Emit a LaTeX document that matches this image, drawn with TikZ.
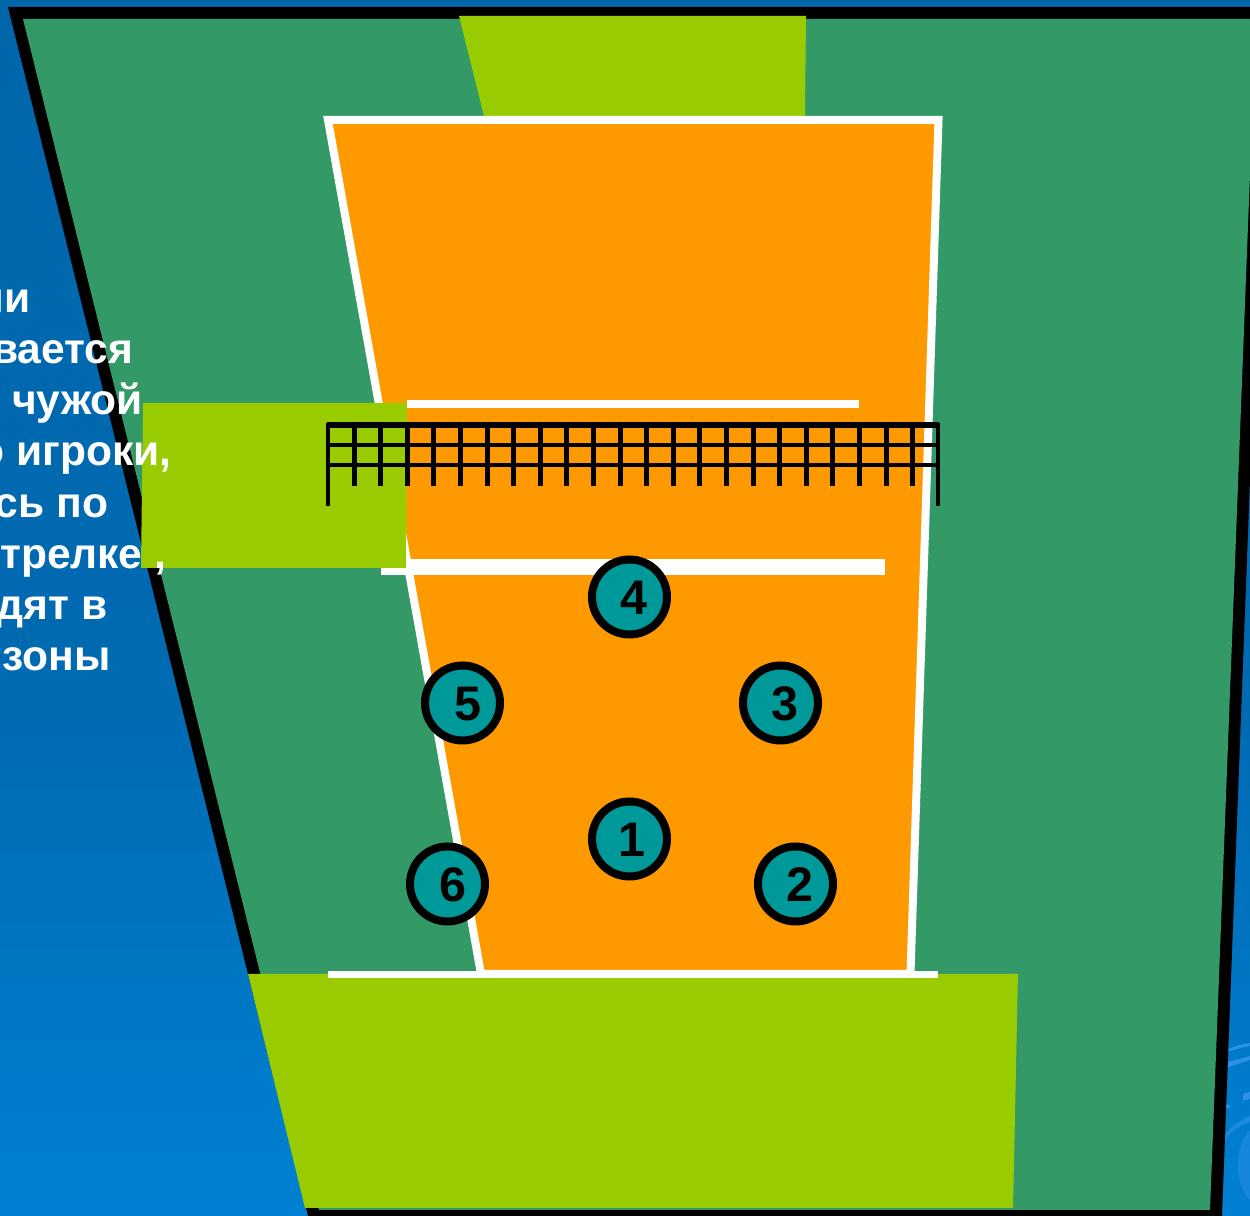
\documentclass[tikz,border=0pt]{standalone}
\usepackage{fontspec}
\setmainfont{Liberation Sans}
\usetikzlibrary{positioning,calc}
\definecolor{floorgreen}{HTML}{339966}
\definecolor{zonelime}{HTML}{99CC00}
\definecolor{courtorange}{HTML}{FF9900}
\definecolor{playerteal}{HTML}{009999}
\definecolor{bgtop}{HTML}{0066AA}
\definecolor{bgmiddle}{HTML}{006AB2}
\definecolor{bgbottom}{HTML}{0080D2}
\definecolor{swirl}{HTML}{2E8FE8}
\begin{document}
\begin{tikzpicture}[
  x=0.01cm, y=-0.01cm,
  player/.style={draw=black, circle, line width=8*0.01cm, fill=playerteal, minimum size=75*0.01cm, inner sep=0pt},
  digit/.style={font=\fontsize{13.8}{15}\selectfont\bfseries},
  caption/.style={font=\fontsize{12.1}{14}\selectfont\bfseries, text=white, anchor=base east, inner sep=0pt},
  courtline/.style={draw=white, line cap=butt},
  netline/.style={draw=black, line cap=butt},
]
\useasboundingbox (0,0) rectangle (1250,1216);
\clip (0,0) rectangle (1250,1216);
% --- background ---
\shade[top color=bgtop, bottom color=bgmiddle] (0,0) rectangle (1250,700);
\shade[top color=bgmiddle, bottom color=bgbottom] (0,700) rectangle (1250,1216);
\fill[swirl] (1226,1050) .. controls (1235,1046) and (1243,1044) .. (1250,1043) -- (1250,1046) .. controls (1243,1047) and (1235,1050) .. (1226,1052) -- cycle;
\fill[swirl] (1227,1062) -- (1250,1056) -- (1250,1060) -- (1226,1068) -- cycle;
\fill[swirl] (1243,1094) -- (1250,1092) -- (1250,1099) -- (1243,1101) -- cycle;
\fill[swirl] (1226,1103) -- (1231,1107) -- (1225,1109) -- cycle;
\fill[swirl!60!bgbottom] (1250,1116) .. controls (1240,1120) and (1232,1126) .. (1225,1134) -- (1224,1140) .. controls (1232,1131) and (1241,1125) .. (1250,1122) -- cycle;
\fill[swirl!50!bgbottom] (1250,1130) .. controls (1234,1145) and (1234,1185) .. (1250,1200) -- cycle;
% --- floor ---
\fill[black] (8,7) -- (1268,7) -- (1222,1216) -- (308,1216) -- cycle;
\fill[floorgreen] (23,19) -- (1256,19) -- (1210,1210) -- (319,1210) -- cycle;
\fill[zonelime] (459,16) -- (806,16) -- (805,116) -- (484,116) -- cycle;
% --- court ---
\filldraw[courtline, fill=courtorange, line width=8*0.01cm] (328,120) -- (938.5,120) -- (910.5,974) -- (481,974) -- cycle;
\draw[courtline, line width=8*0.01cm] (407,404) -- (859,404);
\draw[courtline, line width=16*0.01cm] (381,567.5) -- (885,567.5);
% --- zones ---
\fill[zonelime] (143,403) -- (407,403) -- (406,568) -- (141,568) -- cycle;
\fill[zonelime] (248,974) -- (1018,974) -- (1013,1208) -- (305,1208) -- cycle;
\draw[courtline, line width=7*0.01cm] (328,975) -- (938,975);
% --- net ---
\foreach \i in {1,...,22}
  \draw[netline, line width=5*0.01cm] ({327.5+26.6*\i},425) -- ({327.5+26.6*\i},486);
\draw[netline, line width=4.5*0.01cm] (327,445) -- (938,445);
\draw[netline, line width=4.5*0.01cm] (327,465) -- (938,465);
\draw[netline, line width=6*0.01cm] (327,425) -- (939,425);
\draw[netline, line width=4*0.01cm] (327.5,423) -- (327.5,506);
\draw[netline, line width=4*0.01cm] (938,423) -- (938,506);
% --- players ---
\node[player] (p4) at (629.5,597) {};
\node[player] (p5) at (462.5,703) {};
\node[player] (p3) at (780.5,703) {};
\node[player] (p1) at (629.5,839) {};
\node[player] (p6) at (447.5,884) {};
\node[player] (p2) at (795.5,884) {};
\node[digit] (n4) at (634,598) {4};
\node[digit] (n5) at (468,704) {5};
\node[digit] (n3) at (785,704) {3};
\node[digit] (n1) at (632,840) {1};
\node[digit] (n6) at (453,885) {6};
\node[digit] (n2) at (800,885) {2};
% --- text ---
\node[caption] (l1) at (31,313) {ни};
\node[caption] (l2) at (134,364) {вается};
\node[caption] (l3) at (143,415) {чужой};
\node[caption] (l4) at (172,466) {о игроки,};
\node[caption] (l5) at (109,518) {сь по};
\node[caption] (l6) at (167,569) {стрелке ,};
\node[caption] (l7) at (108,620) {дят в};
\node[caption] (l8) at (111,671) {зоны};
\end{tikzpicture}
\end{document}
